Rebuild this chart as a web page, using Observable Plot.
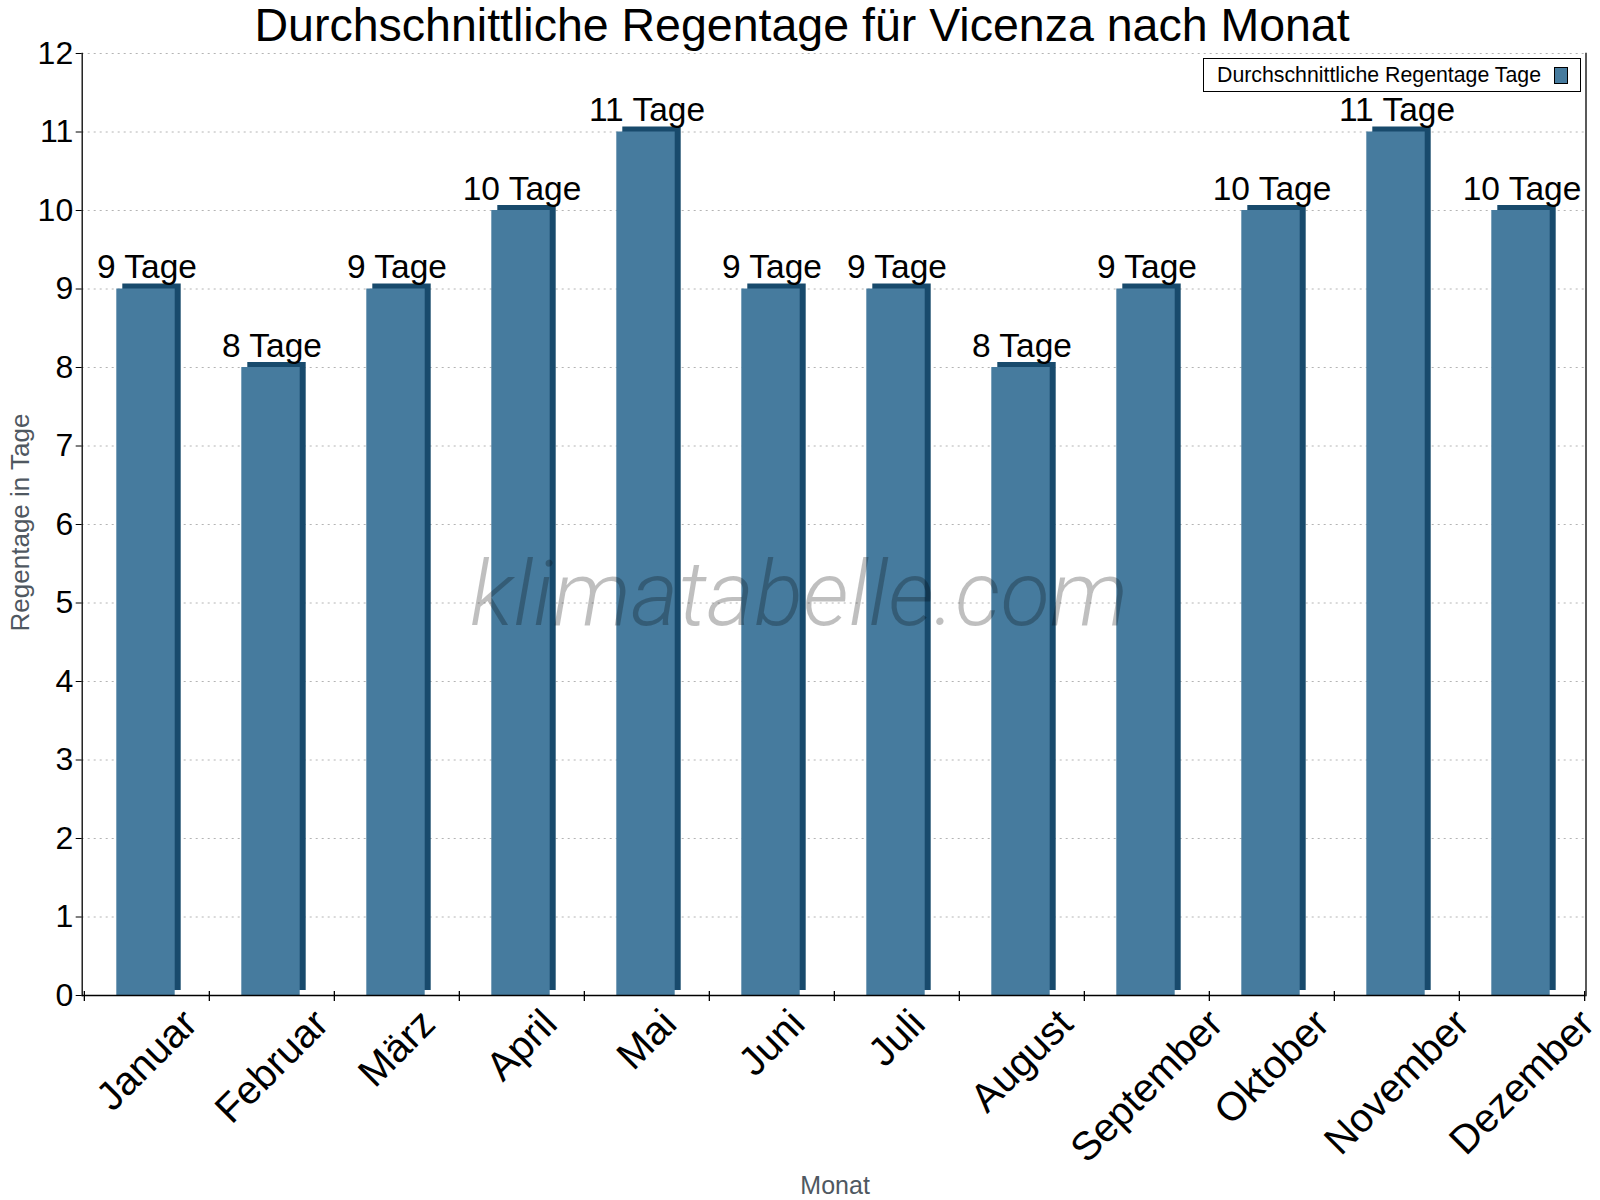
<!DOCTYPE html>
<html>
<head>
<meta charset="utf-8">
<script src="https://cdn.jsdelivr.net/npm/d3@7"></script>
<script src="https://cdn.jsdelivr.net/npm/@observablehq/plot@0.6"></script>
<style>
  html, body { margin: 0; padding: 0; background: #fff; }
  #wrap { position: relative; width: 1600px; height: 1200px; }
  #legend {
    position: absolute; left: 1203px; top: 58px; width: 376px; height: 32px;
    border: 1px solid #000; background: #fff;
    font-family: "Liberation Sans", Arial, sans-serif; font-size: 21.3px; color: #000;
    box-sizing: content-box;
  }
  #legend .lbl { position: absolute; left: 13px; top: 4px; white-space: nowrap; }
  #legend .sw { position: absolute; left: 350px; top: 8px; width: 12px; height: 15px; border: 1px solid #000; }
</style>
</head>
<body>
<div id="wrap"></div>
<script>
// ---- data ----
const months = ["Januar", "Februar", "März", "April", "Mai", "Juni", "Juli", "August", "September", "Oktober", "November", "Dezember"];
const rainDays = [9, 8, 9, 10, 11, 9, 9, 8, 9, 10, 11, 10];
const yTicks = [0, 1, 2, 3, 4, 5, 6, 7, 8, 9, 10, 11, 12];
const unit = "Tage";
const titleText = "Durchschnittliche Regentage für Vicenza nach Monat";
const seriesName = "Durchschnittliche Regentage Tage";
const xTitle = "Monat";
const yTitle = "Regentage in Tage";
const watermark = "klimatabelle.com";

const data = months.map((m, i) => ({month: m, days: rainDays[i], label: `${rainDays[i]} ${unit}`}));

// ---- layout ----
const W = 1600, H = 1200;
const mL = 81.7, mR = 14.5, mT = 53, mB = 205;
const frontColor = "#467b9e";
const sideColor = "#184a6c";
const fontFam = "'Liberation Sans', Arial, sans-serif";
const bw = (W - mL - mR) / months.length;
const pxu = (H - mT - mB) / 12;
const insetL = 32.3, insetR = 34.3;
const depthX = 6, depthY = 5;
const xLabelSize = 40;

// measure x labels for placement of rotated text
const ctx = document.createElement("canvas").getContext("2d");
ctx.font = `${xLabelSize}px 'Liberation Sans', Arial, sans-serif`;
const labelTop = 1006 - (H - mB);
const xLabelMarks = months.map(m => {
  const w = ctx.measureText(m).width;
  const bh = 0.7071 * (w + 0.75 * xLabelSize);
  return Plot.text([m], {
    x: d => d, y: 0, text: d => d, rotate: -45,
    textAnchor: "middle", lineAnchor: "middle",
    dy: labelTop + bh / 2, fontSize: xLabelSize, fill: "#000"
  });
});

const chart = Plot.plot({
  width: W, height: H,
  marginLeft: mL, marginRight: mR, marginTop: mT, marginBottom: mB,
  style: {fontFamily: fontFam, background: "#fff", overflow: "visible", color: "#000"},
  x: {domain: months, padding: 0, axis: null},
  y: {domain: [0, 12], axis: null},
  marks: [
    Plot.gridY(yTicks, {stroke: "#b4b4b4", strokeOpacity: 1, strokeDasharray: "2,4"}),
    // 3D depth (side + top)
    Plot.barY(data, {x: "month", y: "days", fill: sideColor, insetLeft: insetL, insetRight: insetR, dx: depthX, dy: -depthY}),
    // front face
    Plot.barY(data, {x: "month", y: "days", fill: frontColor, insetLeft: insetL, insetRight: insetR}),
    // watermark
    Plot.text([watermark], {frameAnchor: "middle", text: d => d, dx: -35, dy: 100, lineAnchor: "bottom", textAnchor: "middle",
      fontSize: 91, fontStyle: "italic", fontWeight: 300, fontFamily: "'Roboto Light', Roboto, 'Open Sans', sans-serif",
      fill: "#000", fillOpacity: 0.25}),
    // value labels
    Plot.text(data, {x: "month", y: "days", text: "label", dy: -11, lineAnchor: "bottom", fontSize: 33.5, fill: "#000"}),
    // axes
    Plot.axisY({ticks: yTicks, tickSize: 6, tickPadding: 3, fontSize: 32, label: null, stroke: "#000", fill: "#000"}),
    Plot.ruleY([0], {stroke: "#000", strokeWidth: 1.3}),
    Plot.frame({anchor: "left", stroke: "#000", strokeWidth: 1.3}),
    Plot.frame({anchor: "right", stroke: "#000", strokeWidth: 1.3}),
    Plot.ruleX(months, {x: d => d, dx: -bw / 2, y1: -6 / pxu, y2: 4 / pxu, stroke: "#000", strokeWidth: 1.3}),
    Plot.ruleX([months[months.length - 1]], {x: d => d, dx: bw / 2, y1: -6 / pxu, y2: 4 / pxu, stroke: "#000", strokeWidth: 1.3}),
    ...xLabelMarks,
    // titles
    Plot.text([titleText], {frameAnchor: "top", text: d => d, dx: -32, dy: -13, lineAnchor: "bottom", textAnchor: "middle", fontSize: 46.5, fill: "#000"}),
    Plot.text([xTitle], {frameAnchor: "bottom", text: d => d, dx: 1, dy: 198, lineAnchor: "bottom", textAnchor: "middle", fontSize: 25, fill: "#4f5861"}),
    Plot.text([yTitle], {frameAnchor: "left", text: d => d, dx: -53, dy: -2, rotate: -90, lineAnchor: "bottom", textAnchor: "middle", fontSize: 26, fill: "#4f5861"})
  ]
});

const wrap = document.getElementById("wrap");
wrap.appendChild(chart);
const legend = document.createElement("div");
legend.id = "legend";
legend.innerHTML = `<span class="lbl"></span><span class="sw"></span>`;
legend.querySelector(".lbl").textContent = seriesName;
legend.querySelector(".sw").style.background = frontColor;
wrap.appendChild(legend);
</script>
</body>
</html>
